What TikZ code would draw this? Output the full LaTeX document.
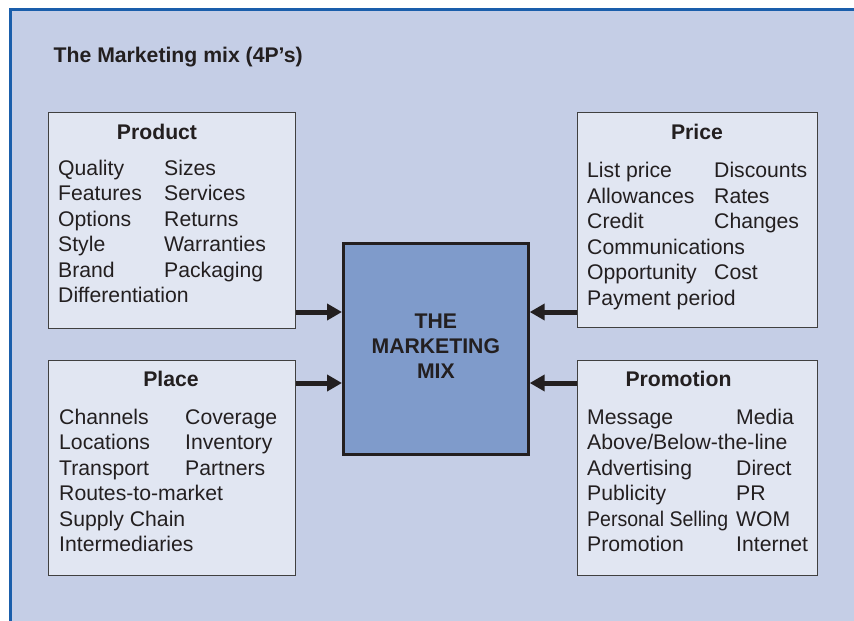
\documentclass[tikz,border=0pt]{standalone}
\usepackage{fontspec}
\setmainfont{Liberation Sans}
\usetikzlibrary{arrows.meta}
\definecolor{bgc}{HTML}{C5CEE6}
\definecolor{boxc}{HTML}{E1E6F2}
\definecolor{mixc}{HTML}{7F9BCB}
\definecolor{bluec}{HTML}{1A5EAB}
\definecolor{inkc}{HTML}{231F20}
\definecolor{edgec}{HTML}{404040}
\begin{document}
\begin{tikzpicture}[x=1pt,y=-1pt,
  panel/.style={draw=edgec, fill=boxc, line width=1.3pt, anchor=north west, inner sep=0pt},
  mixbox/.style={draw=inkc, fill=mixc, line width=2.7pt, anchor=north west, inner sep=0pt},
  mixtext/.style={inner sep=0pt, font=\bfseries\fontsize{21.2}{25}\selectfont, text=inkc, align=center},
  txt/.style={anchor=base west, inner sep=0pt, text=inkc, font=\fontsize{21.2}{25}\selectfont},
  ttl/.style={anchor=base, inner sep=0pt, text=inkc, font=\bfseries\fontsize{21.2}{25}\selectfont},
  arr/.style={draw=inkc, line width=5pt, -{Triangle[length=15pt,width=16pt]}}]
\useasboundingbox (0,0) rectangle (854,621);
\fill[white] (0,0) rectangle (854,621);
\fill[bgc] (9,8) rectangle (854,621);
\draw[bluec, line width=3pt] (10.5,621) -- (10.5,9.5) -- (854,9.5);

\node[anchor=base west, inner sep=0pt, text=inkc, font=\bfseries\fontsize{21.2}{25}\selectfont] (title) at (53.5,62) {The Marketing mix (4P’s)};

\node[panel, minimum width=247pt, minimum height=216pt] (product) at (48,112) {};
\node[panel, minimum width=240pt, minimum height=215pt] (price) at (577,112) {};
\node[panel, minimum width=247pt, minimum height=215pt] (place) at (48,360) {};
\node[panel, minimum width=240pt, minimum height=215pt] (promo) at (577,360) {};
\node[mixbox, minimum width=185pt, minimum height=211pt] (mix) at (342,242) {};
\node[mixtext] (mixt) at ([yshift=2.5pt]mix.center) {THE\\MARKETING\\MIX};

% Product
\node[ttl] (prodt) at (157,139) {Product};
\node[txt] (pa1) at (58,175) {Quality};
\node[txt] (pa2) at (58,200.5) {Features};
\node[txt] (pa3) at (58,226) {Options};
\node[txt] (pa4) at (58,251.5) {Style};
\node[txt] (pa5) at (58,277) {Brand};
\node[txt] (pa6) at (58,302.5) {Differentiation};
\node[txt] (pb1) at (164,175) {Sizes};
\node[txt] (pb2) at (164,200.5) {Services};
\node[txt] (pb3) at (164,226) {Returns};
\node[txt] (pb4) at (164,251.5) {Warranties};
\node[txt] (pb5) at (164,277) {Packaging};

% Price
\node[ttl] (pricet) at (697,139) {Price};
\node[txt] (ra1) at (587,177.5) {List price};
\node[txt] (ra2) at (587,203) {Allowances};
\node[txt] (ra3) at (587,228.5) {Credit};
\node[txt] (ra4) at (587,254) {Communications};
\node[txt] (ra5) at (587,279.5) {Opportunity};
\node[txt] (ra6) at (587,305) {Payment period};
\node[txt] (rb1) at (714,177.5) {Discounts};
\node[txt] (rb2) at (714,203) {Rates};
\node[txt] (rb3) at (714,228.5) {Changes};
\node[txt] (rb5) at (714,279.5) {Cost};

% Place
\node[ttl] (placet) at (171,386) {Place};
\node[txt] (la1) at (59,424) {Channels};
\node[txt] (la2) at (59,449.5) {Locations};
\node[txt] (la3) at (59,475) {Transport};
\node[txt] (la4) at (59,500.5) {Routes-to-market};
\node[txt] (la5) at (59,526) {Supply Chain};
\node[txt] (la6) at (59,551.5) {Intermediaries};
\node[txt] (lb1) at (185,424) {Coverage};
\node[txt] (lb2) at (185,449.5) {Inventory};
\node[txt] (lb3) at (185,475) {Partners};

% Promotion
\node[ttl] (promot) at (678.5,386) {Promotion};
\node[txt] (ma1) at (587,424) {Message};
\node[txt] (ma2) at (587,449.5) {Above/Below-the-line};
\node[txt] (ma3) at (587,475) {Advertising};
\node[txt] (ma4) at (587,500.5) {Publicity};
\node[txt] (ma5) at (587,526) {\scalebox{0.92}[1]{Personal Selling}};
\node[txt] (ma6) at (587,551.5) {Promotion};
\node[txt] (mb1) at (736,424) {Media};
\node[txt] (mb3) at (736,475) {Direct};
\node[txt] (mb4) at (736,500.5) {PR};
\node[txt] (mb5) at (736,526) {WOM};
\node[txt] (mb6) at (736,551.5) {Internet};

% arrows
\coordinate (ya) at (0,312);
\coordinate (yb) at (0,383);
\draw[arr] (product.east |- ya) -- (mix.west |- ya);
\draw[arr] (place.east |- yb) -- (mix.west |- yb);
\draw[arr] (price.west |- ya) -- (mix.east |- ya);
\draw[arr] (promo.west |- yb) -- (mix.east |- yb);
\end{tikzpicture}
\end{document}
